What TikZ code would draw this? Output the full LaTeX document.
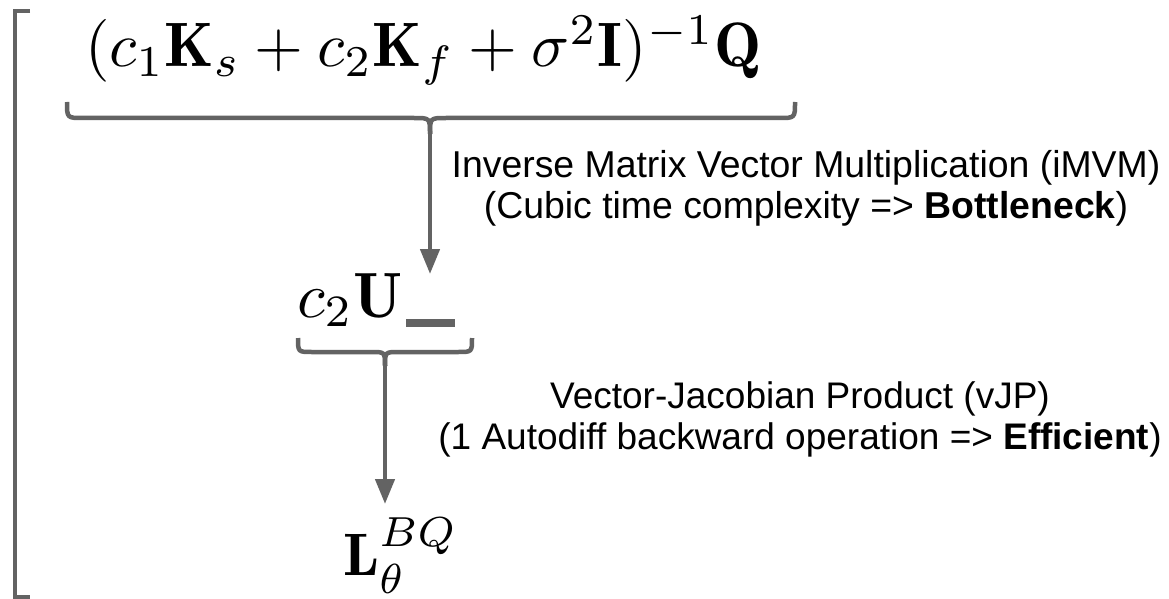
\documentclass[tikz,border=0pt]{standalone}
\usepackage{graphicx}
\usepackage{fontspec}
\newfontfamily\arialf{Liberation Sans}
\usetikzlibrary{arrows.meta}
\definecolor{lgray}{HTML}{636363}
\newcommand{\hugemathx}[2]{\scalebox{#1}{\fontsize{10}{12}\selectfont$#2$}}
\begin{document}
\begin{tikzpicture}[x=1pt,y=-1pt,
  mathnode/.style={inner sep=0pt, outer sep=0pt},
  lbl/.style={inner sep=0pt, align=center, font=\arialf\fontsize{37}{41}\selectfont},
  graystroke/.style={draw=lgray, line width=4.5pt},
  arr/.style={graystroke, -{Triangle[length=25pt,width=19pt]}}]
\useasboundingbox (0,0) rectangle (1169,599);
% left bracket
\draw[draw=lgray, line width=4pt] (30,11.5) -- (15,11.5) -- (15,597) -- (30,597);
% formula
\node[mathnode, anchor=base west] (f) at (85,67) {\hugemathx{6.28}{(c_1\mathbf{K}_s + c_2\mathbf{K}_f + \sigma^2\mathbf{I})^{-1}\mathbf{Q}}};
% top brace
\coordinate (b1) at (430,134);
\draw[graystroke] (67,102) .. controls (67,118) .. (83,118) -- (414,118) .. controls (430,118) .. (b1);
\draw[graystroke] (795,102) .. controls (795,118) .. (779,118) -- (446,118) .. controls (430,118) .. (b1);
\coordinate (t1) at (430,274);
\draw[arr] (b1) -- (t1);
\node[lbl, anchor=base, font=\arialf\fontsize{37.4}{41}\selectfont] (l1) at (806,218) {Inverse Matrix Vector Multiplication (iMVM)\\(Cubic time complexity => \textbf{Bottleneck})};
% c2U
\node[mathnode, anchor=base west] (u) at (297,317) {\hugemathx{6.4}{c_2\mathbf{U}}};
\node[fill=lgray, inner sep=0pt, minimum width=49pt, minimum height=8pt] (bar) at (430.5,323) {};
% second brace
\coordinate (b2) at (385,366);
\draw[graystroke] (298,338) .. controls (298,352) .. (312,352) -- (371,352) .. controls (385,352) .. (b2);
\draw[graystroke] (472,338) .. controls (472,352) .. (458,352) -- (399,352) .. controls (385,352) .. (b2);
\coordinate (t2) at (385,504);
\draw[arr] (b2) -- (t2);
\node[lbl, anchor=base] (l2) at (800,449) {Vector-Jacobian Product (vJP)\\(1 Autodiff backward operation => \textbf{Efficient})};
% L
\node[mathnode, anchor=base west] (L) at (343,575) {\hugemathx{6}{\mathbf{L}_\theta^{BQ}}};
\end{tikzpicture}
\end{document}
